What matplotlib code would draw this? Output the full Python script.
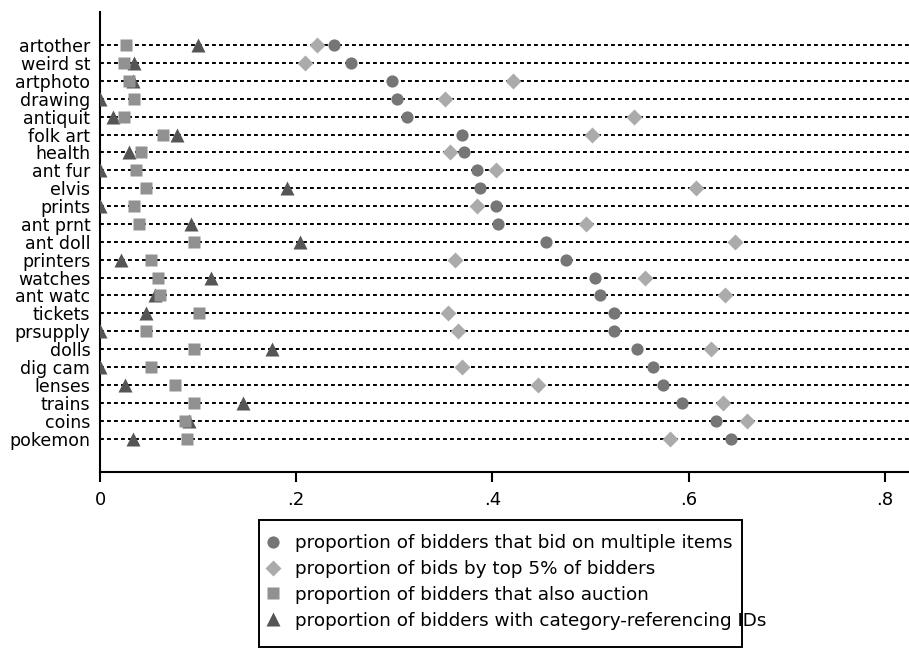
import matplotlib
matplotlib.use("Agg")
import matplotlib.pyplot as plt
from matplotlib.patches import Rectangle

categories = ["artother", "weird st", "artphoto", "drawing", "antiquit", "folk art",
              "health", "ant fur", "elvis", "prints", "ant prnt", "ant doll",
              "printers", "watches", "ant watc", "tickets", "prsupply", "dolls",
              "dig cam", "lenses", "trains", "coins", "pokemon"]

multiple_items = [0.239, 0.256, 0.298, 0.303, 0.313, 0.369, 0.371, 0.384, 0.387, 0.404,
                  0.406, 0.455, 0.475, 0.505, 0.510, 0.524, 0.524, 0.547, 0.564, 0.574,
                  0.593, 0.628, 0.643]
top5_bids = [0.2215, 0.2086, 0.421, 0.352, 0.544, 0.502, 0.357, 0.404, 0.608, 0.384,
             0.495, 0.647, 0.3615, 0.556, 0.637, 0.355, 0.3646, 0.623, 0.369, 0.446,
             0.635, 0.660, 0.581]
also_auction = [0.027, 0.0245, 0.0296, 0.0343, 0.0245, 0.0642, 0.0421, 0.037, 0.0469,
                0.0343, 0.0394, 0.0961, 0.052, 0.059, 0.0615, 0.101, 0.0466, 0.096,
                0.052, 0.076, 0.096, 0.0863, 0.0887]
category_ids = [0.0995, 0.035, 0.034, 0.0, 0.0136, 0.078, 0.030, 0.0, 0.191, 0.0,
                0.093, 0.2035, 0.021, 0.113, 0.056, 0.0466, 0.0, 0.175, 0.0, 0.025,
                0.1458, 0.0907, 0.0333]

labels = ["proportion of bidders that bid on multiple items",
          "proportion of bids by top 5% of bidders",
          "proportion of bidders that also auction",
          "proportion of bidders with category-referencing IDs"]
xticks = [0, 0.2, 0.4, 0.6, 0.8]
xticklabels = ["0", ".2", ".4", ".6", ".8"]

plt.rcParams['font.family'] = ['DejaVu Sans']

fig = plt.figure(figsize=(9.09, 6.48), dpi=100)
W, H = 909, 648
ax = fig.add_axes([100 / W, (H - 472) / H, (W - 100) / W, (472 - 12) / H])

n = len(categories)
ypos = list(range(n, 0, -1))

for y in ypos:
    ax.axhline(y, color="black", lw=1.4, linestyle=(0, (2.0, 1.6)), zorder=1)

h4, = ax.plot(category_ids, ypos, linestyle="none", marker="^", ms=10,
              color="#555555", mec="none", zorder=3)
h3, = ax.plot(also_auction, ypos, linestyle="none", marker="s", ms=8.2,
              color="#919191", mec="none", zorder=4)
h2, = ax.plot(top5_bids, ypos, linestyle="none", marker="D", ms=8.3,
              color="#ababab", mec="none", zorder=3)
h1, = ax.plot(multiple_items, ypos, linestyle="none", marker="o", ms=8.8,
              color="#767676", mec="none", zorder=4)

ax.set_xlim(0, (W - 100) / 981)
ax.set_ylim(1 - 1.87, n + 1.85)
ax.set_yticks(ypos)
ax.set_yticklabels(categories, fontsize=12.5)
ax.set_xticks(xticks)
ax.set_xticklabels(xticklabels, fontsize=13)
ax.tick_params(axis="y", length=0, pad=7)
ax.tick_params(axis="x", length=7, width=1.5, pad=7)
for s in ["top", "right"]:
    ax.spines[s].set_visible(False)
for s in ["left", "bottom"]:
    ax.spines[s].set_linewidth(1.5)

fig.patches.append(Rectangle((259 / W, 1 / H), (742 - 259) / W, (H - 520 - 1) / H,
                             transform=fig.transFigure, fill=False,
                             edgecolor="black", lw=1.4, zorder=0))
leg = fig.legend([h1, h2, h3, h4], labels, loc="upper left",
                 bbox_to_anchor=(263.8 / W, (H - 534.4) / H), frameon=False,
                 fontsize=13.2, handlelength=1.0, handletextpad=0.70,
                 borderpad=0, borderaxespad=0, labelspacing=0.42,
                 markerscale=1.0)

fig.savefig("out.png", dpi=100)
